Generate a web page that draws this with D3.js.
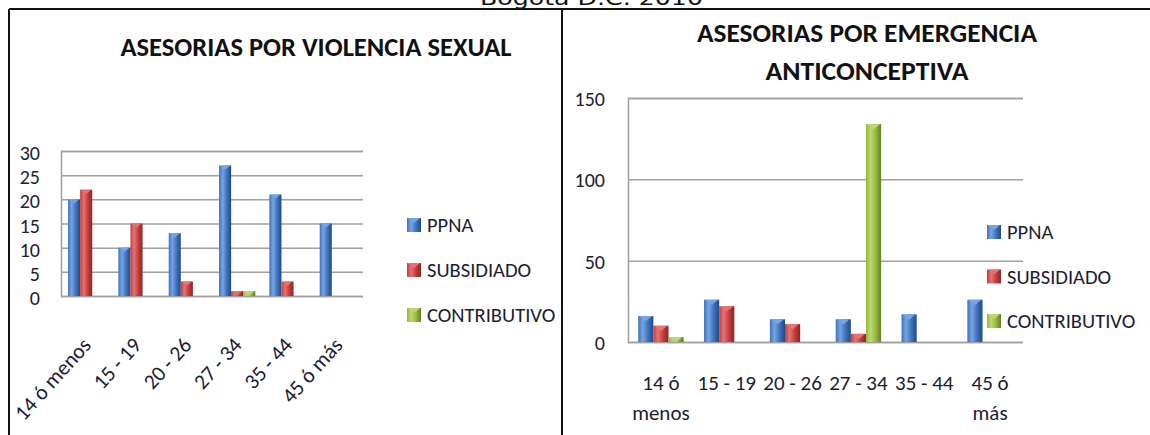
<!DOCTYPE html>
<html>
<head>
<meta charset="utf-8">
<script src="https://d3js.org/d3.v7.min.js"></script>
<style>
  body { margin: 0; background: #fff; }
  svg text { font-family: Carlito, Lato, sans-serif; fill: #1c1c33; }
</style>
</head>
<body>
<script>
// ---- data ----
var categories = ["14 ó menos", "15 - 19", "20 - 26", "27 - 34", "35 - 44", "45 ó más"];
var seriesNames = ["PPNA", "SUBSIDIADO", "CONTRIBUTIVO"];

var violenciaPPNA         = [20, 10, 13, 27, 21, 15];
var violenciaSubsidiado   = [22, 15, 3, 1, 3, 0];
var violenciaContributivo = [0, 0, 0, 1, 0, 0];
var violenciaTicks        = [0, 5, 10, 15, 20, 25, 30];

var emergenciaPPNA         = [16, 26, 14, 14, 17, 26];
var emergenciaSubsidiado   = [10, 22, 11, 5, 0, 0];
var emergenciaContributivo = [3, 0, 0, 134, 0, 0];
var emergenciaTicks        = [0, 50, 100, 150];

var svg = d3.select("body").append("svg")
    .attr("width", 1150)
    .attr("height", 435);

// bar colours, shaded like the old 3D office bars
var palette = [
  {id: "blue",  light: "#76a4e4", mid: "#3e72bb", dark: "#1f4a88"},
  {id: "red",   light: "#e57373", mid: "#c43d3d", dark: "#8c2424"},
  {id: "green", light: "#bcd86e", mid: "#93b83e", dark: "#627f22"}
];
var defs = svg.append("defs");
palette.forEach(function(c) {
  var g = defs.append("linearGradient").attr("id", "grad-" + c.id)
      .attr("x1", "0%").attr("x2", "100%").attr("y1", "0%").attr("y2", "0%");
  g.append("stop").attr("offset", "0%").attr("stop-color", c.mid);
  g.append("stop").attr("offset", "30%").attr("stop-color", c.light);
  g.append("stop").attr("offset", "65%").attr("stop-color", c.mid);
  g.append("stop").attr("offset", "100%").attr("stop-color", c.dark);
});

// page frame
svg.append("text")
    .attr("x", 480).attr("y", 5)
    .attr("textLength", 223).attr("lengthAdjust", "spacingAndGlyphs")
    .style("font-family", "'DejaVu Sans', sans-serif")
    .style("font-size", "20px")
    .style("fill", "#111")
    .text("Bogotá D.C. 2010");

var frame = svg.append("g").attr("stroke", "#111").attr("stroke-width", 2);
frame.append("line").attr("x1", 9).attr("x2", 1150).attr("y1", 9).attr("y2", 9);
frame.append("line").attr("x1", 9).attr("x2", 9).attr("y1", 9).attr("y2", 435);
frame.append("line").attr("x1", 562).attr("x2", 562).attr("y1", 9).attr("y2", 435);

function drawChart(o) {
  var g = svg.append("g");

  var x0 = d3.scaleBand().domain(categories)
      .range([o.left, o.right]).paddingInner(o.pad).paddingOuter(o.pad / 2);
  var x1 = d3.scaleBand().domain(seriesNames).range([0, x0.bandwidth()]);
  var y = d3.scaleLinear().domain([0, o.max]).range([o.bottom, o.top]);

  // grid + left axis line
  var grid = g.append("g")
      .attr("transform", "translate(" + o.left + ",0)")
      .call(d3.axisLeft(y).tickValues(o.ticks).tickSize(-(o.right - o.left)).tickFormat(""));
  grid.selectAll("line").attr("stroke", "#a0a0a0").attr("stroke-width", 1.5);
  grid.select(".domain").attr("stroke", "#a0a0a0").attr("stroke-width", 1.5);

  // y tick labels
  g.append("g").selectAll("text")
    .data(o.ticks)
    .join("text")
      .attr("x", o.labelX)
      .attr("y", function(d) { return y(d) + o.labelDy; })
      .attr("text-anchor", "end")
      .style("font-size", o.tickSize + "px")
      .text(function(d) { return d; });

  // bars
  var series = o.series;
  var groups = g.append("g").selectAll("g")
    .data(categories)
    .join("g")
      .attr("transform", function(d) { return "translate(" + x0(d) + ",0)"; });

  var bars = groups.selectAll("g")
    .data(function(d, i) {
      return seriesNames.map(function(s, j) { return {key: s, value: series[j][i], col: palette[j]}; });
    })
    .join("g")
    .filter(function(d) { return d.value > 0; });

  bars.append("rect")
      .attr("x", function(d) { return x1(d.key); })
      .attr("y", function(d) { return y(d.value); })
      .attr("width", x1.bandwidth())
      .attr("height", function(d) { return y(0) - y(d.value); })
      .attr("fill", function(d) { return "url(#grad-" + d.col.id + ")"; });

  // little bevel on top of each bar
  bars.append("path")
      .attr("d", function(d) {
        var bx = x1(d.key), w = x1.bandwidth(), by = y(d.value);
        var h = Math.min(w * 0.35, y(0) - by);
        return "M" + (bx + 1) + "," + by + "L" + (bx + w - 1) + "," + by + "L" + (bx + w / 2) + "," + (by + h) + "Z";
      })
      .attr("fill", function(d) { return d.col.light; });

  // category labels
  if (o.rotate) {
    g.append("g").selectAll("text")
      .data(categories)
      .join("text")
        .attr("text-anchor", "end")
        .attr("transform", function(d) {
          return "translate(" + (x0(d) + x0.bandwidth() / 2 + 6) + "," + o.catY + ") rotate(-48)";
        })
        .style("font-size", o.catSize + "px")
        .text(function(d) { return d; });
  } else {
    var cats = g.append("g").selectAll("text")
      .data(categories)
      .join("text")
        .attr("text-anchor", "middle")
        .attr("x", function(d) { return x0(d) + x0.bandwidth() / 2; })
        .attr("y", o.catY)
        .style("font-size", o.catSize + "px");
    // break the long ones after "ó"
    cats.each(function(d) {
      var parts = d.split(" ó ");
      var t = d3.select(this);
      if (parts.length === 2) {
        t.append("tspan").attr("x", t.attr("x")).text(parts[0] + " ó");
        t.append("tspan").attr("x", t.attr("x")).attr("dy", 30).text(parts[1]);
      } else {
        t.text(d);
      }
    });
  }

  // title
  g.append("g").selectAll("text")
    .data(o.title)
    .join("text")
      .attr("x", o.titleX)
      .attr("y", function(d, i) { return o.titleY + i * 38; })
      .attr("text-anchor", "middle")
      .attr("textLength", function(d, i) { return o.titleLen[i]; })
      .attr("lengthAdjust", "spacingAndGlyphs")
      .style("font-size", "27px")
      .style("font-weight", "bold")
      .style("fill", "#111")
      .text(function(d) { return d; });

  // legend
  var leg = g.append("g").selectAll("g")
    .data(seriesNames)
    .join("g")
      .attr("transform", function(d, i) { return "translate(" + o.legX + "," + (o.legY + i * o.legStep) + ")"; });
  leg.append("rect")
      .attr("x", 0).attr("y", -7).attr("width", 14).attr("height", 14)
      .attr("fill", function(d, i) { return "url(#grad-" + palette[i].id + ")"; });
  leg.append("path")
      .attr("d", "M1,-7L13,-7L7,-2Z")
      .attr("fill", function(d, i) { return palette[i].light; });
  leg.append("text")
      .attr("x", 20).attr("y", 7)
      .style("font-size", "20.5px")
      .text(function(d) { return d; });
}

drawChart({
  series: [violenciaPPNA, violenciaSubsidiado, violenciaContributivo],
  ticks: violenciaTicks, max: 30,
  left: 61, right: 363, top: 151, bottom: 296, pad: 0.28,
  labelX: 40, labelDy: 9, tickSize: 20,
  rotate: true, catY: 346, catSize: 21.5,
  title: ["ASESORIAS POR VIOLENCIA SEXUAL"], titleLen: [391], titleX: 316, titleY: 56,
  legX: 407, legY: 225, legStep: 45
});

drawChart({
  series: [emergenciaPPNA, emergenciaSubsidiado, emergenciaContributivo],
  ticks: emergenciaTicks, max: 150,
  left: 628, right: 1023, top: 98, bottom: 342, pad: 0.31,
  labelX: 605, labelDy: 8, tickSize: 20,
  rotate: false, catY: 390, catSize: 21,
  title: ["ASESORIAS POR EMERGENCIA", "ANTICONCEPTIVA"], titleLen: [340, 203], titleX: 867, titleY: 42,
  legX: 987, legY: 232, legStep: 44.5
});
</script>
</body>
</html>
